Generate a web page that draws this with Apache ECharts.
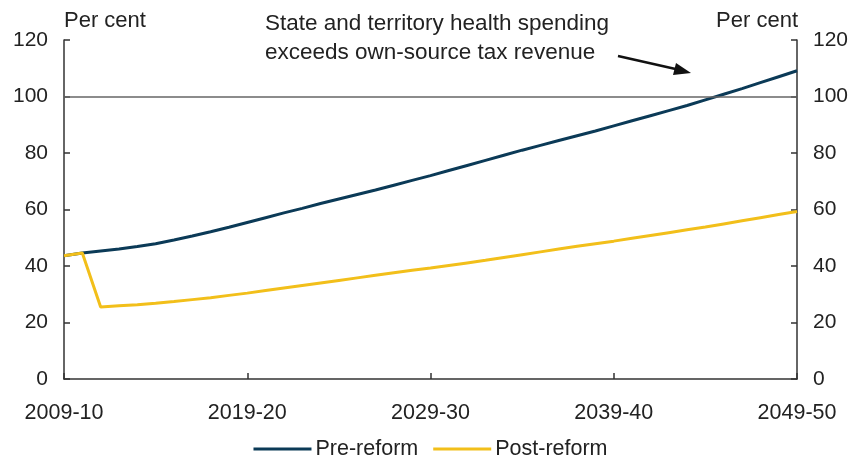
<!DOCTYPE html>
<html>
<head>
<meta charset="utf-8">
<script src="https://cdn.jsdelivr.net/npm/echarts@6/dist/echarts.min.js"></script>
<style>
  html, body { margin: 0; padding: 0; background: #fff; }
  #chart { width: 861px; height: 456px; }
</style>
</head>
<body>
<div id="chart"></div>
<script>
// financial years 2009-10 .. 2049-50
var years = [];
for (var y = 2009; y <= 2049; y++) {
  years.push(y + '-' + String((y + 1) % 100).padStart(2, '0'));
}

// health spending as share of own-source tax revenue, per cent
var preReform = [
  43.6, 44.6, 45.3, 46.0, 46.9, 47.9, 49.2, 50.6, 52.1, 53.7,
  55.4, 57.1, 58.8, 60.4, 62.1, 63.7, 65.3, 66.9, 68.6, 70.3,
  72.0, 73.8, 75.6, 77.4, 79.2, 81.0, 82.7, 84.4, 86.1, 87.8,
  89.6, 91.4, 93.2, 95.0, 96.8, 98.8, 100.8, 102.8, 104.9, 107.0,
  109.1
];
var postReform = [
  43.6, 44.6, 25.5, 25.9, 26.3, 26.8, 27.4, 28.1, 28.8, 29.6,
  30.4, 31.3, 32.2, 33.1, 34.0, 34.9, 35.8, 36.7, 37.6, 38.5,
  39.3, 40.2, 41.1, 42.0, 43.0, 44.0, 45.0, 46.0, 47.0, 47.9,
  48.8, 49.8, 50.8, 51.8, 52.8, 53.8, 54.9, 56.0, 57.1, 58.2,
  59.3
];
var threshold = 100;

var font = 'Liberation Sans, Arial, sans-serif';
var axisColor = '#333';
var textColor = '#222';

var chart = echarts.init(document.getElementById('chart'));

var yAxisBase = {
  type: 'value',
  min: 0,
  max: 120,
  interval: 20,
  axisLine: { show: true, lineStyle: { color: axisColor, width: 1.5 } },
  axisTick: { show: true, inside: true, length: 6, lineStyle: { color: axisColor, width: 1.5 } },
  axisLabel: { color: textColor, fontSize: 21, fontFamily: font, margin: 16 },
  splitLine: { show: false }
};

chart.setOption({
  animation: false,
  grid: { left: 64, right: 64, top: 40, bottom: 77, containLabel: false },
  legend: {
    top: 438,
    left: 'center',
    padding: 0,
    itemWidth: 58,
    itemHeight: 3,
    itemGap: 15,
    icon: 'rect',
    textStyle: { color: textColor, fontSize: 21.5, fontFamily: font, padding: [0, 0, 0, -1] },
    data: ['Pre-reform', 'Post-reform']
  },
  xAxis: {
    type: 'category',
    data: years,
    boundaryGap: false,
    axisLine: { lineStyle: { color: axisColor, width: 1.5 } },
    axisTick: { inside: true, length: 6, interval: 9, lineStyle: { color: axisColor, width: 1.5 } },
    axisLabel: { interval: 9, color: textColor, fontSize: 21.5, fontFamily: font, margin: 23 }
  },
  yAxis: [
    Object.assign({}, yAxisBase, { position: 'left' }),
    Object.assign({}, yAxisBase, { position: 'right' })
  ],
  graphic: [
    { type: 'text', left: 64, top: 10, style: { text: 'Per cent', font: '22px ' + font, fill: textColor } },
    { type: 'text', right: 63, top: 10, style: { text: 'Per cent', font: '22px ' + font, fill: textColor, textAlign: 'right' } },
    {
      type: 'text', left: 265, top: 9,
      style: {
        text: 'State and territory health spending\nexceeds own-source tax revenue',
        font: '22.5px ' + font, fill: textColor, lineHeight: 29
      }
    },
    { type: 'line', shape: { x1: 618, y1: 56, x2: 680, y2: 70 }, style: { stroke: '#111', lineWidth: 2.5 } },
    { type: 'polygon', shape: { points: [[691, 73], [676, 63], [673, 75]] }, style: { fill: '#111' } }
  ],
  series: [
    {
      name: 'Pre-reform',
      type: 'line',
      data: preReform,
      showSymbol: false,
      lineStyle: { color: '#0b3a57', width: 3 },
      itemStyle: { color: '#0b3a57' },
      z: 2,
      markLine: {
        silent: true,
        symbol: 'none',
        label: { show: false },
        lineStyle: { color: '#666', width: 1.5, type: 'solid' },
        data: [{ yAxis: threshold }]
      }
    },
    {
      name: 'Post-reform',
      type: 'line',
      data: postReform,
      showSymbol: false,
      lineStyle: { color: '#f2bf1a', width: 3 },
      itemStyle: { color: '#f2bf1a' },
      z: 3
    }
  ]
});
</script>
</body>
</html>
